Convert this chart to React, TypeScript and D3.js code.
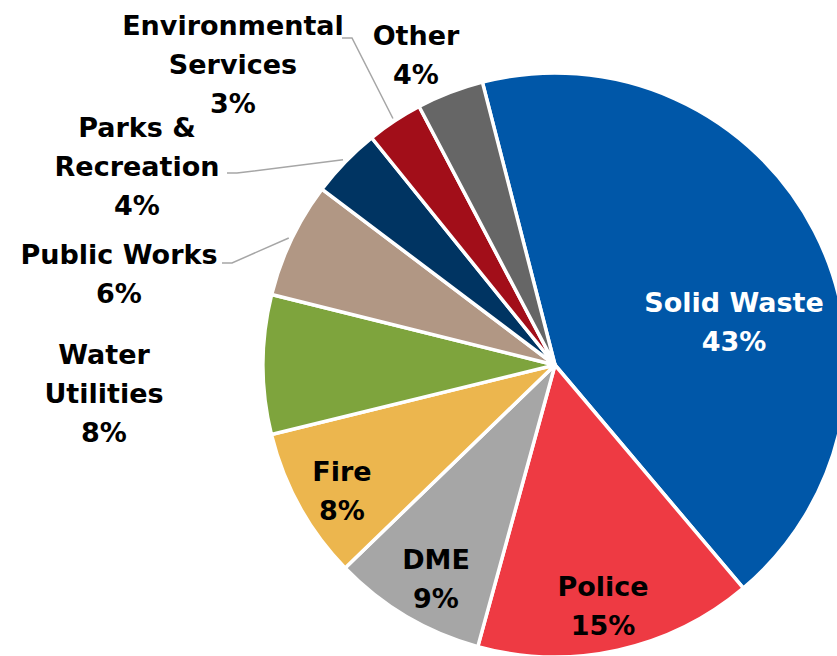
import React from "react";
import * as d3 from "d3";

const categories = [
  "Solid Waste",
  "Police",
  "DME",
  "Fire",
  "Water Utilities",
  "Public Works",
  "Parks & Recreation",
  "Environmental Services",
  "Other",
];
const values = [42.8, 15.4, 8.5, 8.4, 7.7, 6.4, 3.9, 3.1, 3.7];
const colors = [
  "#0057A8",
  "#EE3A43",
  "#A6A6A6",
  "#ECB64E",
  "#7EA43D",
  "#B19784",
  "#003462",
  "#A20E19",
  "#666666",
];
// label lines per category
const labelLines = [
  ["Solid Waste"],
  ["Police"],
  ["DME"],
  ["Fire"],
  ["Water", "Utilities"],
  ["Public Works"],
  ["Parks &", "Recreation"],
  ["Environmental", "Services"],
  ["Other"],
];

const W = 837;
const H = 656;
const cx = 555;
const cy = 365;
const R = 292;
const startDeg = -14.4;

// layout: label center x and first baseline y, text color, leader start
const labelLayout: { x: number; y: number; fill: string; leader?: [number, number] }[] = [
  { x: 734, y: 312, fill: "#FFFFFF" },
  { x: 603, y: 596, fill: "#000000" },
  { x: 436, y: 569, fill: "#000000" },
  { x: 342, y: 481, fill: "#000000" },
  { x: 104, y: 364, fill: "#000000" },
  { x: 119, y: 264, fill: "#000000", leader: [222, 263] },
  { x: 137, y: 137, fill: "#000000", leader: [227, 173] },
  { x: 233, y: 35, fill: "#000000", leader: [342, 38] },
  { x: 416, y: 45, fill: "#000000" },
];
const lineH = 39;

export default function App() {
  const total = d3.sum(values);
  const start = (startDeg * Math.PI) / 180;
  const pie = d3
    .pie<number>()
    .sort(null)
    .value((d) => d)
    .startAngle(start)
    .endAngle(start + 2 * Math.PI);
  const arcs = pie(values);
  const arc = d3.arc<d3.PieArcDatum<number>>().innerRadius(0).outerRadius(R);
  const fmt = (v: number) => `${Math.round((v / total) * 100)}%`;

  return (
    <svg
      width={W}
      height={H}
      style={{ position: "absolute", left: 0, top: 0, background: "#fff" }}
    >
      <g transform={`translate(${cx},${cy})`}>
        {arcs.map((a, i) => (
          <path
            key={categories[i]}
            d={arc(a) || ""}
            fill={colors[i]}
            stroke="#FFFFFF"
            strokeWidth={3.5}
            strokeLinejoin="round"
          />
        ))}
      </g>
      {arcs.map((a, i) => {
        const L = labelLayout[i];
        if (!L.leader) return null;
        const mid = (a.startAngle + a.endAngle) / 2;
        const rr = R + 3;
        const ex = cx + rr * Math.sin(mid);
        const ey = cy - rr * Math.cos(mid);
        const [sx, sy] = L.leader;
        return (
          <polyline
            key={"l" + i}
            points={`${sx},${sy} ${sx + 10},${sy} ${ex},${ey}`}
            fill="none"
            stroke="#A6A6A6"
            strokeWidth={1.5}
          />
        );
      })}
      {arcs.map((a, i) => {
        const L = labelLayout[i];
        const lines = [...labelLines[i], fmt(values[i])];
        return (
          <text
            key={"t" + i}
            x={L.x}
            y={L.y}
            textAnchor="middle"
            fill={L.fill}
            style={{
              fontFamily: "'DejaVu Sans', sans-serif",
              fontWeight: 700,
              fontSize: 27,
            }}
          >
            {lines.map((ln, j) => (
              <tspan key={j} x={L.x} y={L.y + j * lineH}>
                {ln}
              </tspan>
            ))}
          </text>
        );
      })}
    </svg>
  );
}
